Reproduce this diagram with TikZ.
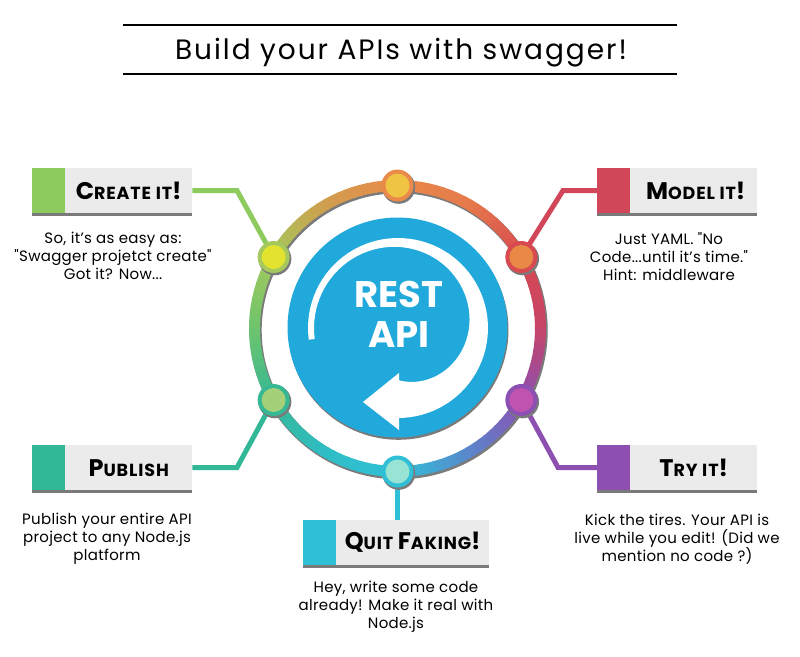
\documentclass[tikz,border=0pt]{standalone}
\usepackage{fontspec}
\setmainfont{Poppins}
\newfontfamily\titlefont[LetterSpace=7]{Poppins}
\newfontfamily\lblfont[LetterSpace=5]{Poppins}
\newfontfamily\bodyfont[LetterSpace=2]{Poppins}
\usetikzlibrary{calc}
\definecolor{cGreen}{HTML}{8DCB5F}
\definecolor{cRed}{HTML}{D2465A}
\definecolor{cTeal}{HTML}{33B897}
\definecolor{cPurple}{HTML}{8D50B1}
\definecolor{cCyan}{HTML}{2FBFD7}
\definecolor{boxgray}{HTML}{EBEBEB}
\definecolor{shadowgray}{HTML}{7A7A7A}
\definecolor{restblue}{HTML}{21A9DB}
\definecolor{r90}{HTML}{E98A4A}
\definecolor{r60}{HTML}{E57A4B}
\definecolor{r30}{HTML}{D94A50}
\definecolor{r0}{HTML}{C64468}
\definecolor{rm30}{HTML}{8C50B2}
\definecolor{rm60}{HTML}{5A86CB}
\definecolor{rm90}{HTML}{2FC0D8}
\definecolor{rm120}{HTML}{2FBDC5}
\definecolor{rm150}{HTML}{36B895}
\definecolor{r180}{HTML}{6DC46C}
\definecolor{r150}{HTML}{A5C95C}
\definecolor{r120}{HTML}{CF9E4E}
\definecolor{inTop}{HTML}{EFC443}
\definecolor{inUL}{HTML}{E3E22E}
\definecolor{inUR}{HTML}{E88A45}
\definecolor{inLL}{HTML}{A5D07A}
\definecolor{inLR}{HTML}{C052B0}
\definecolor{inBot}{HTML}{98E3D3}
\newcommand\Lg[1]{{\fontsize{24}{24}\selectfont #1}}
\newcommand\Sm[1]{{\fontsize{17.5}{17.5}\selectfont #1}}
\tikzset{
  conn/.style={line width=5pt},
  graybox/.style={fill=boxgray, draw=none, minimum height=45pt, inner sep=0pt, anchor=north west, font=\lblfont\bfseries},
  squarebox/.style={draw=none, minimum height=45pt, minimum width=33pt, inner sep=0pt, anchor=north west},
  bodytext/.style={align=center, inner sep=0pt, anchor=north, font=\bodyfont\fontsize{15}{18}\selectfont},
  hub/.style={circle, minimum size=32pt, inner sep=0pt, draw=none},
  hubin/.style={circle, minimum size=24pt, inner sep=0pt, draw=none},
}
\begin{document}
\begin{tikzpicture}[x=1pt,y=-1pt]
\useasboundingbox (0,0) rectangle (800,656);
% title
\coordinate (tl1) at (123,25); \coordinate (tr1) at (677,25);
\coordinate (tl2) at (123,74); \coordinate (tr2) at (677,74);
\draw[line width=1.3pt] (tl1) -- (tr1);
\draw[line width=1.3pt] (tl2) -- (tr2);
\node[font=\titlefont\fontsize{28}{28}\selectfont, anchor=base] (title) at (401,59) {Build your APIs with swagger!};

% hub centres
\coordinate (pTop) at (397.5,185.5);
\coordinate (pUL) at (273.66,257);
\coordinate (pUR) at (521.34,257);
\coordinate (pLL) at (273.66,400);
\coordinate (pLR) at (521.34,400);
\coordinate (pBot) at (397.5,471.5);

% boxes
\fill[shadowgray] (32,170.5) rectangle (192,215.5);
\node[squarebox, fill=cGreen] (createsq) at (32,168) {};
\node[graybox, minimum width=127pt] (createbox) at (65,168) {\Lg{C}\Sm{REATE IT}\Lg{!}};
\fill[shadowgray] (597,170.5) rectangle (757,215.5);
\node[squarebox, fill=cRed] (modelsq) at (597,168) {};
\node[graybox, minimum width=127pt] (modelbox) at (630,168) {\hspace{4pt}\Lg{M}\Sm{ODEL IT}\Lg{!}};
\fill[shadowgray] (32,447.5) rectangle (192,492.5);
\node[squarebox, fill=cTeal] (pubsq) at (32,445) {};
\node[graybox, minimum width=127pt] (pubbox) at (65,445) {\Lg{P}\Sm{UBLISH}\hspace{8pt}};
\fill[shadowgray] (597,447.5) rectangle (757,492.5);
\node[squarebox, fill=cPurple] (trysq) at (597,445) {};
\node[graybox, minimum width=127pt] (trybox) at (630,445) {\Lg{T}\Sm{RY IT}\Lg{!}\hspace{8pt}};
\fill[shadowgray] (303,522.5) rectangle (489,567.5);
\node[squarebox, fill=cCyan] (quitsq) at (303,520) {};
\node[graybox, minimum width=153pt] (quitbox) at (336,520) {\Lg{Q}\Sm{UIT }\Lg{F}\Sm{AKING}\Lg{!}};

% connectors
\coordinate (cb) at (237,190.5);
\coordinate (mb) at (563,190.5);
\coordinate (pb) at (237,467.5);
\coordinate (tb) at (558,467.5);
\draw[conn, cGreen] (createbox.east) -- (cb) -- (pUL);
\draw[conn, cRed] (modelsq.west) -- (mb) -- (pUR);
\draw[conn, cTeal] (pubbox.east) -- (pb) -- (pLL);
\draw[conn, cPurple] (trysq.west) -- (tb) -- (pLR);
\draw[conn, cCyan] (quitsq.north -| pBot) -- (pBot);

% ring shadow
\draw[line width=12pt, shadowgray] (398.7,330.3) circle[radius=143pt];
% gradient ring
\foreach \a/\ca/\cb in {90/r90/r60, 60/r60/r30, 30/r30/r0, 0/r0/rm30, -30/rm30/rm60, -60/rm60/rm90, -90/rm90/rm120, -120/rm120/rm150, -150/rm150/r180, -180/r180/r150, -210/r150/r120, -240/r120/r90}{
  \foreach \i in {0,...,9}{
    \pgfmathsetmacro\s{\a-3*\i+0.2}
    \pgfmathsetmacro\e{\a-3*\i-3.4}
    \pgfmathtruncatemacro\p{95-\i*10}
    \draw[line width=11pt, color=\ca!\p!\cb] plot[domain=\s:\e, samples=3] ({397.5+143*cos(\x)},{328.5-143*sin(\x)});
  }
}

% hubs
\foreach \n/\rc/\ic in {Top/r90/inTop, UL/r150/inUL, UR/r30/inUR, LL/rm150/inLL, LR/rm30/inLR, Bot/rm90/inBot}{
  \fill[shadowgray] ($(p\n)+(1.2,1.8)$) circle[radius=16.5pt];
  \node[hub, fill=\rc] (h\n) at (p\n) {};
  \node[hubin, fill=\ic] (i\n) at (p\n) {};
}

% central circle
\fill[shadowgray] (398.5,329.8) circle[radius=110pt];
\node[circle, fill=restblue, minimum size=220pt, inner sep=0pt] (core) at (397.5,327.5) {};
% white arrow
\fill[white] plot[domain=187.5:-90, samples=70] ({398+90*cos(\x)},{328-90*sin(\x)})
  -- plot[domain=-90:187.5, samples=70] ({398+(84-32*pow((187.8-\x)/277.8,2.3))*cos(\x)},{328-(84-32*pow((187.8-\x)/277.8,2.3))*sin(\x)}) -- cycle;
\coordinate (aTop) at (399,373);
\coordinate (aBot) at (399,430);
\coordinate (aTip) at (363,402);
\fill[white] (aTop) -- (aTip) -- (aBot) -- cycle;
\node[white, font=\bfseries\fontsize{37}{37}\selectfont, anchor=base] (rest) at (399,307) {REST};
\node[white, font=\bfseries\fontsize{37}{37}\selectfont, anchor=base] (api) at (399,347) {API};

% body texts
\node[bodytext] (createtxt) at (113,232) {So, it’s as easy as:\\"Swagger projetct create"\\Got it? Now...};
\node[bodytext] (modeltxt) at (669,232) {Just YAML. "No\\Code...until it’s time."\\Hint: middleware};
\node[bodytext] (pubtxt) at (107,513) {Publish your entire API\\project to any Node.js\\platform};
\node[bodytext] (trytxt) at (677,514) {Kick the tires. Your API is\\live while you edit! (Did we\\mention no code ?)};
\node[bodytext] (quittxt) at (396,581) {Hey, write some code\\already! Make it real with\\Node.js};
\end{tikzpicture}
\end{document}
